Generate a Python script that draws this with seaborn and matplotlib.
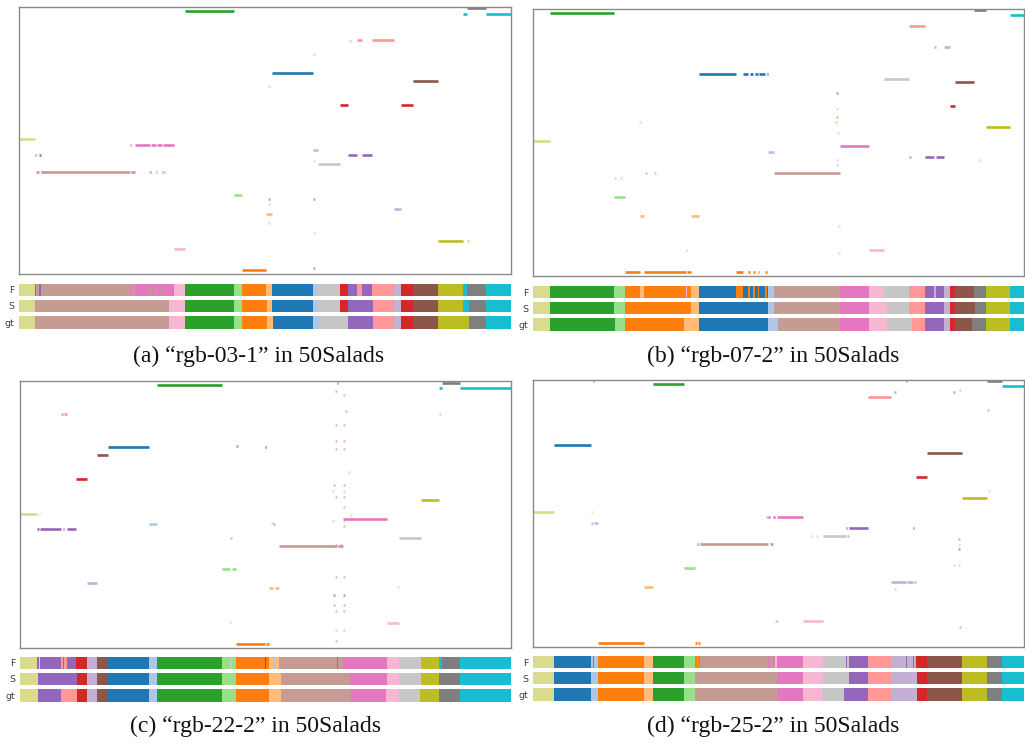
import matplotlib.pyplot as plt
import seaborn as sns

sns.set_theme(style="white")
plt.rcParams["font.family"] = ["DejaVu Sans"]

# class codes in tab20 order (light cyan unused)
codes = "BbOoGgRrPpNnKkYyLlC"
tab = sns.color_palette("tab20")
colors = {c: tab[i] for i, c in enumerate(codes)}

# vertical level of each class in the upper plot (px from top of box)
levels = {"Y": 1.3, "G": 3.8, "C": 6.5, "r": 33, "B": 65.5, "N": 73.5, "R": 97.5,
          "L": 118.5, "l": 132.3, "K": 137.5, "b": 143, "P": 148, "y": 156.5,
          "n": 164.5, "g": 188, "p": 202, "o": 207, "k": 241.5, "O": 263}
lv_a = {"L": 234.3}
lv_b = {"r": 17, "p": 38.3, "y": 70.3}
lv_c = {}
lv_d = {"r": 17.7}

# segments: (class, end frame)
a_F = [("l", 46), ("P", 50), ("n", 60), ("P", 65), ("n", 333), ("K", 336), ("n", 348), ("K", 393),
       ("n", 396), ("K", 410), ("n", 413), ("K", 428), ("n", 431), ("K", 465), ("k", 498), ("G", 645),
       ("g", 668), ("O", 741), ("o", 758), ("B", 880), ("b", 896), ("y", 963), ("R", 986), ("P", 1013),
       ("r", 1028), ("P", 1058), ("r", 1123), ("p", 1146), ("R", 1180), ("N", 1256), ("L", 1330),
       ("C", 1343), ("Y", 1401), ("C", 1475)]
a_S = [("l", 46), ("n", 449), ("k", 498), ("G", 645), ("g", 668), ("O", 743), ("o", 758), ("B", 880),
       ("b", 896), ("y", 963), ("R", 986), ("P", 1060), ("r", 1123), ("p", 1146), ("R", 1180),
       ("N", 1256), ("L", 1330), ("C", 1348), ("Y", 1401), ("C", 1475)]
a_gt = [("l", 46), ("n", 449), ("k", 498), ("G", 643), ("g", 668), ("O", 743), ("o", 761), ("B", 880),
        ("b", 898), ("y", 986), ("P", 1060), ("r", 1123), ("p", 1146), ("R", 1180), ("N", 1256),
        ("L", 1348), ("Y", 1401), ("C", 1475)]

b_F = [("l", 49), ("G", 244), ("g", 277), ("O", 322), ("o", 332), ("O", 459), ("k", 462), ("O", 474),
       ("o", 500), ("B", 610), ("O", 632), ("B", 647), ("O", 652), ("B", 662), ("O", 667), ("B", 675),
       ("O", 679), ("B", 697), ("O", 702), ("B", 707), ("b", 724), ("n", 924), ("K", 1009), ("k", 1055),
       ("y", 1132), ("r", 1180), ("P", 1207), ("p", 1212), ("P", 1235), ("p", 1254), ("R", 1270),
       ("N", 1327), ("Y", 1362), ("L", 1435), ("C", 1477)]
b_S = [("l", 49), ("G", 244), ("g", 277), ("O", 475), ("o", 499), ("B", 707), ("b", 724), ("n", 924),
       ("K", 1009), ("k", 1065), ("y", 1132), ("r", 1180), ("P", 1235), ("p", 1255), ("R", 1270),
       ("N", 1330), ("Y", 1362), ("L", 1435), ("C", 1477)]
b_gt = [("l", 49), ("G", 247), ("g", 275), ("O", 455), ("o", 499), ("B", 707), ("b", 737), ("n", 922),
        ("K", 1009), ("k", 1065), ("y", 1139), ("r", 1180), ("P", 1235), ("p", 1255), ("R", 1270),
        ("N", 1320), ("Y", 1362), ("L", 1434), ("C", 1477)]

c_F = [("l", 50), ("P", 55), ("l", 59), ("P", 122), ("r", 127), ("P", 132), ("r", 140), ("P", 167),
       ("R", 199), ("p", 229), ("N", 262), ("B", 385), ("b", 410), ("G", 605), ("g", 629), ("y", 634),
       ("g", 645), ("O", 732), ("B", 737), ("O", 744), ("o", 757), ("b", 762), ("o", 775), ("n", 947),
       ("Y", 952), ("n", 967), ("K", 1097), ("k", 1134), ("y", 1199), ("L", 1252), ("C", 1262),
       ("Y", 1317), ("C", 1469)]
c_S = [("l", 52), ("P", 169), ("R", 199), ("p", 229), ("N", 262), ("B", 385), ("b", 410), ("G", 604),
       ("g", 645), ("O", 744), ("o", 779), ("n", 987), ("K", 1097), ("k", 1134), ("y", 1199),
       ("L", 1252), ("Y", 1317), ("C", 1469)]
c_gt = [("l", 52), ("P", 122), ("r", 169), ("R", 199), ("p", 229), ("N", 262), ("B", 385), ("b", 410),
        ("G", 604), ("g", 645), ("O", 744), ("o", 780), ("n", 990), ("K", 1095), ("k", 1135),
        ("y", 1197), ("L", 1252), ("Y", 1315), ("C", 1469)]

d_F = [("l", 64), ("B", 175), ("b", 180), ("Y", 182), ("b", 195), ("O", 334), ("o", 362), ("G", 455),
       ("g", 487), ("O", 492), ("n", 497), ("O", 502), ("n", 707), ("K", 712), ("n", 722), ("K", 727),
       ("k", 734), ("K", 812), ("k", 872), ("y", 942), ("P", 945), ("y", 950), ("P", 1007), ("r", 1077),
       ("p", 1122), ("Y", 1125), ("p", 1142), ("P", 1145), ("p", 1152), ("R", 1184), ("N", 1289),
       ("L", 1367), ("Y", 1410), ("C", 1477)]
d_S = [("l", 64), ("B", 175), ("b", 195), ("O", 334), ("o", 362), ("G", 455), ("g", 487), ("n", 734),
       ("K", 812), ("k", 872), ("y", 950), ("P", 1007), ("r", 1077), ("p", 1154), ("R", 1184),
       ("N", 1290), ("L", 1367), ("Y", 1410), ("C", 1477)]
d_gt = [("l", 64), ("B", 175), ("b", 195), ("O", 334), ("o", 360), ("G", 455), ("g", 487), ("n", 734),
        ("K", 812), ("k", 869), ("y", 937), ("P", 1007), ("r", 1077), ("p", 1154), ("R", 1184),
        ("N", 1290), ("L", 1367), ("Y", 1412), ("C", 1477)]

# stray frames in the upper plot: (class, frame, level)
a_noise = [("g", 883, 46.7), ("g", 748, 79), ("G", 748, 191.5), ("G", 883, 191.5), ("y", 748, 197),
           ("g", 748, 215.5), ("y", 884, 154), ("n", 68, 165), ("n", 393, 165), ("n", 435, 165),
           ("r", 991, 33.7), ("G", 883, 261), ("o", 883, 226), ("L", 1345, 234.3)]
b_noise = [("G", 915, 84), ("b", 915, 100), ("O", 915, 108), ("r", 910, 113), ("p", 918, 124),
           ("b", 915, 150.7), ("b", 915, 156), ("k", 322, 113), ("n", 340, 164), ("n", 365, 164),
           ("g", 246, 169), ("g", 265, 169), ("O", 327, 206.7), ("b", 1343, 150.7), ("P", 1135, 147.7),
           ("k", 920, 217), ("k", 920, 244)]
c_noise = [("K", 945, 10), ("n", 970, 14), ("K", 975, 30), ("n", 945, 44), ("n", 970, 44),
           ("K", 945, 60), ("K", 970, 60), ("n", 945, 68), ("n", 970, 68), ("g", 985, 91),
           ("K", 940, 104), ("K", 968, 104), ("b", 935, 110), ("b", 970, 110), ("n", 945, 116),
           ("n", 970, 116), ("n", 970, 126), ("g", 990, 134), ("g", 935, 140), ("g", 968, 140),
           ("n", 970, 145), ("K", 945, 164), ("n", 960, 164), ("n", 945, 196), ("n", 970, 196),
           ("N", 940, 214), ("N", 970, 214), ("K", 940, 224), ("K", 968, 224), ("n", 945, 230),
           ("n", 970, 230), ("g", 945, 249), ("g", 970, 249), ("n", 945, 260), ("B", 650, 64.7),
           ("b", 755, 142), ("o", 1130, 206), ("k", 628, 241), ("r", 1255, 33)]
d_noise = [("P", 1088, 12), ("P", 1266, 12), ("b", 1283, 10), ("K", 1370, 30.7), ("y", 1372, 111),
           ("C", 1282, 159), ("B", 1282, 169.7), ("y", 1282, 165), ("y", 1266, 185.7), ("y", 1282, 185.7),
           ("b", 1088, 209.7), ("K", 1284, 247), ("K", 705, 137.7), ("K", 726, 137.7), ("n", 495, 164.3),
           ("l", 178, 132.3), ("k", 735, 241.7), ("y", 840, 156.5), ("y", 855, 156.5)]

captions = ["(a) \u201crgb-03-1\u201d in 50Salads", "(b) \u201crgb-07-2\u201d in 50Salads",
            "(c) \u201crgb-22-2\u201d in 50Salads", "(d) \u201crgb-25-2\u201d in 50Salads"]
row_names = ["F", "S", "gt"]

W, H = 1025, 747
fig = plt.figure(figsize=(W / 100, H / 100), dpi=100)


def px_axes(x0, y0, x1, y1):
    return fig.add_axes([x0 / W, 1 - y1 / H, (x1 - x0) / W, (y1 - y0) / H])


def spans(seq):
    start = 0
    for code, end in seq:
        yield code, start, end
        start = end


def draw_panel(box, bar_top, cap_xy, caption, F, S, gt, lv_over, noise):
    x0, y0, x1, y1 = box
    length = F[-1][1]
    lv = dict(levels, **lv_over)

    ax = px_axes(x0, y0, x1, y1)
    for code, frame, y in noise:
        ax.hlines(y, frame - 3, frame + 3, color=colors[code], lw=1.9, alpha=0.55)
    for code, s, e in spans(F):
        ax.hlines(lv[code], s, e, color=colors[code], lw=1.9, capstyle="butt")
    ax.set_xlim(0, length)
    ax.set_ylim(y1 - y0, 0)
    ax.set_xticks([])
    ax.set_yticks([])
    for sp in ax.spines.values():
        sp.set_color("#8a8a8a")
        sp.set_linewidth(1.0)

    centers = [6, 22, 38.7]
    heights = [12, 12, 13.5]
    bx = px_axes(x0, bar_top, x1, bar_top + 46)
    for seq, c, h in zip([F, S, gt], centers, heights):
        for code, s, e in spans(seq):
            bx.barh(c, e - s, left=s, height=h, color=colors[code], linewidth=0)
    bx.set_xlim(0, length)
    bx.set_ylim(46, 0)
    bx.set_xticks([])
    bx.set_yticks(centers)
    bx.set_yticklabels(row_names, fontsize=6.8, color="#404040")
    bx.tick_params(axis="y", length=0, pad=3.5)
    for sp in bx.spines.values():
        sp.set_visible(False)

    fig.text(cap_xy[0] / W, 1 - cap_xy[1] / H, caption, ha="center", va="center",
             family="Liberation Serif", fontsize=17, color="#111111")


draw_panel((19.3, 7, 511, 274), 284, (259, 356), captions[0], a_F, a_S, a_gt, lv_a, a_noise)
draw_panel((533.3, 9, 1024, 276), 286, (773, 356), captions[1], b_F, b_S, b_gt, lv_b, b_noise)
draw_panel((20.3, 381.3, 511, 647.7), 657, (255, 726), captions[2], c_F, c_S, c_gt, lv_c, c_noise)
draw_panel((533, 379.7, 1024, 646.7), 656, (773, 726), captions[3], d_F, d_S, d_gt, lv_d, d_noise)

fig.savefig("out.png", dpi=100)
